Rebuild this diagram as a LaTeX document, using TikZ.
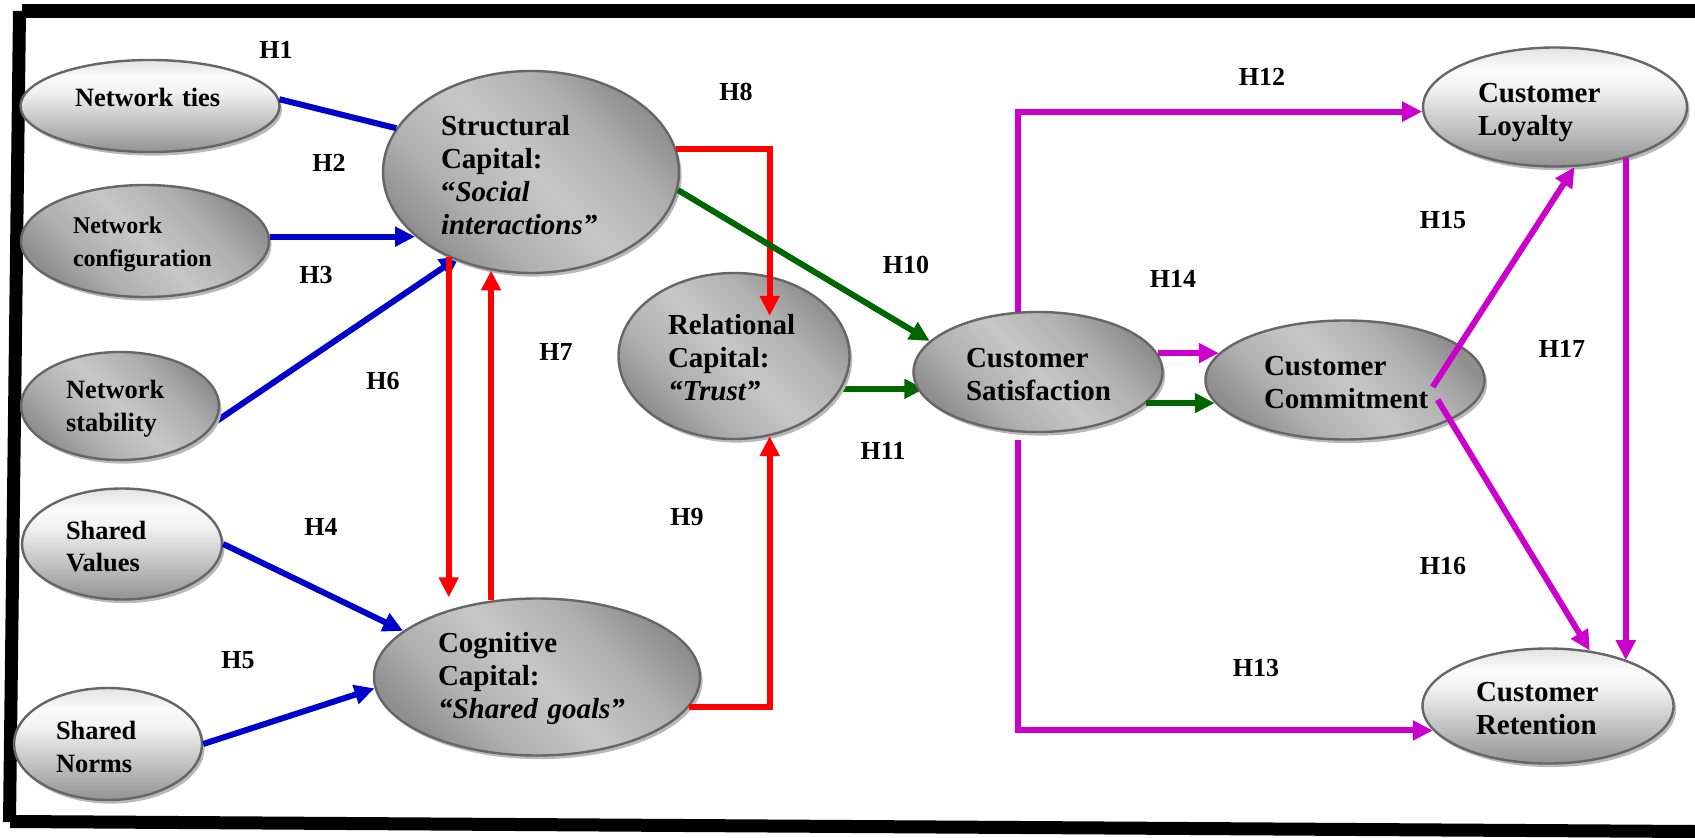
\documentclass[tikz,border=0pt]{standalone}
\usepackage{fontspec}
\setmainfont{Liberation Serif}
\usetikzlibrary{arrows.meta,shapes.geometric,shadows}

% diagonal band: dark rim, light centre strip
\pgfdeclarehorizontalshading{capband}{100bp}{color(0bp)=(gray!88); color(25bp)=(gray!88); color(36bp)=(gray!62); color(50bp)=(gray!44); color(64bp)=(gray!62); color(75bp)=(gray!88); color(100bp)=(gray!88)}
% vertical: light near the top, darker towards the bottom
\pgfdeclareverticalshading{softdrop}{100bp}{color(0bp)=(gray!85); color(25bp)=(gray!85); color(58bp)=(gray!10); color(66bp)=(gray!4); color(75bp)=(gray!22); color(100bp)=(gray!22)}

\definecolor{hblue}{RGB}{0,0,204}
\definecolor{hred}{RGB}{255,0,0}
\definecolor{hgreen}{RGB}{0,102,0}
\definecolor{hmag}{RGB}{204,0,204}

\pgfdeclarelayer{behind}
\pgfsetlayers{behind,main}

\tikzset{
  bubble/.style={ellipse, draw=black!60, line width=1.2pt, inner sep=0pt, align=left, text height=12pt,
    drop shadow={shadow xshift=1.3pt, shadow yshift=-1.8pt, fill=gray!55, opacity=1}},
  darkfill/.style={shading=capband, shading angle=45},
  lightfill/.style={shading=softdrop},
  bigtxt/.style={font=\bfseries\fontsize{14.5}{16.5}\selectfont},
  midtxt/.style={font=\bfseries\fontsize{13.2}{16.2}\selectfont},
  smalltxt/.style={font=\bfseries\fontsize{12}{16.5}\selectfont},
  hyp/.style={font=\bfseries\fontsize{13}{15}\selectfont, inner sep=0pt},
  link/.style={line width=3pt, -{Triangle[length=10pt,width=9.5pt]}},
  plainlink/.style={line width=3pt},
}

\begin{document}
\begin{tikzpicture}[x=0.5pt, y=-0.5pt]
\useasboundingbox (0,0) rectangle (1695,838);

% frame
\fill[black] (22,4) -- (1695,4) -- (1695,18) -- (22,18) -- cycle;
\fill[black] (13,11) -- (26,11) -- (16,822) -- (3,822) -- cycle;
\fill[black] (10,815) -- (1695,825) -- (1695,838) -- (10,828) -- cycle;

% constructs
\node[bubble, lightfill, midtxt, minimum width=129.5pt, minimum height=46pt, text width=75pt, text depth=11pt] (nt) at (150,106) {\mbox{Network ties}};
\node[bubble, darkfill, bigtxt, minimum width=148pt, minimum height=101pt, text width=90pt, text height=13pt] (sc) at (531,172)
  {Structural\\Capital:\\“\textit{Social}\\\textit{interactions”}};
\node[bubble, darkfill, smalltxt, minimum width=124pt, minimum height=56pt, text width=72pt] (ncf) at (145,241) {Network\\configuration};
\node[bubble, darkfill, midtxt, minimum width=99pt, minimum height=54pt, text width=54pt] (nst) at (120,406) {Network\\stability};
\node[bubble, lightfill, midtxt, minimum width=100pt, minimum height=55.5pt, text width=56pt] (sv) at (122,544) {Shared\\Values};
\node[bubble, lightfill, midtxt, minimum width=94pt, minimum height=56pt, text width=52pt] (sn) at (108,744) {Shared\\Norms};
\node[bubble, darkfill, bigtxt, minimum width=163pt, minimum height=78.5pt, text width=99pt] (cc) at (537,677)
  {Cognitive\\Capital:\\\textit{\mbox{“Shared goals”}}};
\node[bubble, darkfill, bigtxt, minimum width=115.5pt, minimum height=83pt, text width=66pt] (rc) at (734,356)
  {Relational\\Capital:\\\textit{“Trust”}};
\node[bubble, darkfill, bigtxt, minimum width=124.5pt, minimum height=60pt, text width=72pt] (cs) at (1038,372) {Customer\\Satisfaction};
\node[bubble, lightfill, bigtxt, minimum width=132pt, minimum height=59.5pt, text width=77pt, text height=15.2pt] (cl) at (1555,107) {Customer\\Loyalty};
\node[bubble, darkfill, bigtxt, minimum width=139.5pt, minimum height=59.5pt, text width=81pt] (cm) at (1345,380) {Customer\\Commitment};
\node[bubble, lightfill, bigtxt, minimum width=125.5pt, minimum height=57.5pt, text width=72pt] (cr) at (1548,706) {Customer\\Retention};

% hypothesis labels
\node[hyp] (h1) at (276,50) {H1};
\node[hyp] (h2) at (329,163) {H2};
\node[hyp] (h3) at (316,275) {H3};
\node[hyp] (h4) at (321,527) {H4};
\node[hyp] (h5) at (238,660) {H5};
\node[hyp] (h6) at (383,381) {H6};
\node[hyp] (h7) at (556,352) {H7};
\node[hyp] (h8) at (736,92) {H8};
\node[hyp] (h9) at (687,517) {H9};
\node[hyp] (h10) at (906,265) {H10};
\node[hyp] (h11) at (883,451) {H11};
\node[hyp] (h12) at (1262,77) {H12};
\node[hyp] (h13) at (1256,668) {H13};
\node[hyp] (h14) at (1173,279) {H14};
\node[hyp] (h15) at (1443,220) {H15};
\node[hyp] (h16) at (1443,566) {H16};
\node[hyp] (h17) at (1562,349) {H17};

% white sheet and the paths partly hidden under the ellipses
\begin{pgfonlayer}{behind}
  \fill[white] (0,0) rectangle (1695,838);
  \draw[link, hblue, shorten >=-3pt] (nst.351) -- (sc.229);
  \draw[link, hgreen, shorten >=-6pt] (rc.343) -- (rc.343 -| cs.west);
\end{pgfonlayer}

% social capital antecedents
\draw[plainlink, hblue] (nt.3) -- (sc.162);
\draw[link, hblue] (ncf.2) -- (ncf.2 -| sc.209);
\draw[link, hblue] (sv.east) -- (cc.161);
\draw[link, hblue] (sn.east) -- (cc.184);

% links between capital dimensions
\draw[link, hred] (sc.226) -- (sc.226 |- cc.north);
\draw[link, hred] (cc.121) -- (cc.121 |- sc.248);
\draw[link, hred, shorten >=-20pt] (sc.9) -| (rc.66);
\draw[link, hred] (cc.349) -| (rc.294);

% towards satisfaction and commitment
\draw[link, hgreen] (sc.353) -- (cs.164);
\draw[link, hgreen] (cs.344) -- (cs.344 -| cm.190);
\draw[link, hmag] (cs.9) -- (cs.9 -| cm.168);

% outcomes
\draw[link, hmag] (cs.108) |- (cl.182);
\draw[link, hmag, shorten <=4pt] (cs.252) |- (cr.192);
\draw[link, hmag, shorten <=-25pt] (cm.17) -- (cl.288);
\draw[link, hmag, shorten <=-12pt] (cm.339) -- (cr.53);
\draw[link, hmag] (cl.324) -- (cl.324 |- cr.30);
\end{tikzpicture}
\end{document}
